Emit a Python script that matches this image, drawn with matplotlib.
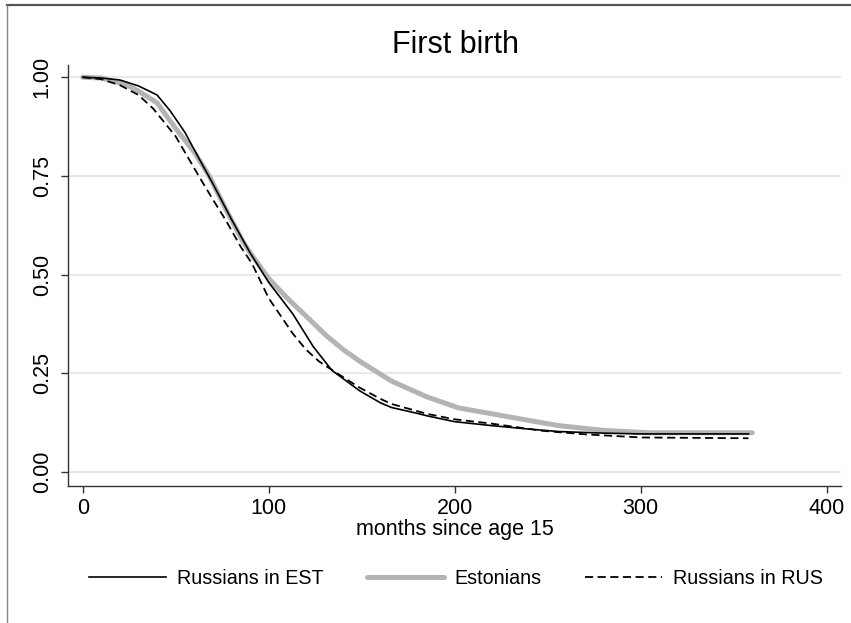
import matplotlib
matplotlib.use("Agg")
import matplotlib.pyplot as plt
from matplotlib.lines import Line2D

plt.rcParams['font.family'] = ['Liberation Sans', 'DejaVu Sans']

# Kaplan-Meier style survival curves
est_rus_x = [0, 10, 20, 30, 40, 47, 55, 63, 70, 80, 90, 100, 113, 124, 134, 149, 160, 166, 180, 185,
             200, 220, 238, 256, 280, 300, 358]
est_rus_y = [1.0, 0.998, 0.993, 0.978, 0.955, 0.915, 0.86, 0.79, 0.73, 0.64, 0.555, 0.48, 0.40,
             0.317, 0.257, 0.205, 0.175, 0.163, 0.148, 0.142, 0.127, 0.117, 0.109, 0.102, 0.098,
             0.096, 0.096]

estonians_x = [0, 10, 24, 30, 40, 50, 60, 68, 77, 86, 90, 100, 110, 120, 131, 140, 149, 166,
               185, 202, 220, 240, 256, 280, 304, 360]
estonians_y = [1.0, 0.998, 0.98, 0.965, 0.935, 0.87, 0.81, 0.75, 0.665, 0.585, 0.555, 0.49, 0.44,
               0.395, 0.345, 0.31, 0.28, 0.23, 0.19, 0.162, 0.147, 0.13, 0.117, 0.105, 0.099, 0.099]

rus_rus_x = [0, 10, 20, 30, 38, 50, 63, 70, 77, 85, 91, 100, 113, 120, 127, 135, 149, 160, 166,
             185, 200, 220, 247, 270, 300, 358]
rus_rus_y = [1.0, 0.995, 0.98, 0.955, 0.92, 0.85, 0.745, 0.69, 0.637, 0.57, 0.528, 0.44, 0.35,
             0.31, 0.28, 0.255, 0.213, 0.185, 0.172, 0.147, 0.133, 0.122, 0.104, 0.095, 0.087, 0.085]

x_ticks = [0, 100, 200, 300, 400]
y_ticks = [0.0, 0.25, 0.5, 0.75, 1.0]

fig = plt.figure(figsize=(8.51, 6.23), dpi=100)
ax = fig.add_axes([68 / 851, 1 - 486 / 623, (841 - 68) / 851, (486 - 65) / 623])

ax.plot(estonians_x, estonians_y, color='#b4b4b4', lw=3.6, solid_capstyle='round',
        label='Estonians', zorder=2)
ax.plot(est_rus_x, est_rus_y, color='black', lw=1.2, label='Russians in EST', zorder=3)
ax.plot(rus_rus_x, rus_rus_y, color='black', lw=1.3, linestyle=(0, (4.5, 2.5)),
        label='Russians in RUS', zorder=3)

ax.set_xlim(-7.9, 407.7)
ax.set_ylim(-0.036, 1.031)
ax.set_xticks(x_ticks)
ax.set_yticks(y_ticks)
ax.set_yticklabels([f"{v:.2f}" for v in y_ticks], rotation=90, va='center')
ax.tick_params(axis='both', labelsize=15.5, length=5, width=1, color='#333333', direction='out')
ax.tick_params(axis='y', pad=6)
ax.tick_params(axis='x', pad=4)

ax.grid(axis='y', color='#e6e6e6', lw=1.3)
ax.set_axisbelow(True)
for side in ['top', 'right']:
    ax.spines[side].set_visible(False)
for side in ['left', 'bottom']:
    ax.spines[side].set_color('#333333')
    ax.spines[side].set_linewidth(1)

ax.set_xlabel("months since age 15", fontsize=15.5, labelpad=0)
fig.text(455 / 851, 1 - 45 / 623, "First birth", fontsize=22, ha='center', va='center')

handles, labels = ax.get_legend_handles_labels()
order = [1, 0, 2]
fig.legend([handles[i] for i in order], [labels[i] for i in order],
           loc='center', bbox_to_anchor=(456 / 851, 1 - 578 / 623), ncol=3, frameon=False,
           fontsize=14.2, handlelength=3.9, handletextpad=0.55, columnspacing=2.2)

# outer frame of the graph region
fig.add_artist(Line2D([7 / 851, 1], [1 - 5 / 623, 1 - 5 / 623], color='#555555', lw=1.6,
                      transform=fig.transFigure))
fig.add_artist(Line2D([7 / 851, 7 / 851], [0, 1 - 5 / 623], color='#888888', lw=1.0,
                      transform=fig.transFigure))

fig.savefig("out.png", dpi=100)
